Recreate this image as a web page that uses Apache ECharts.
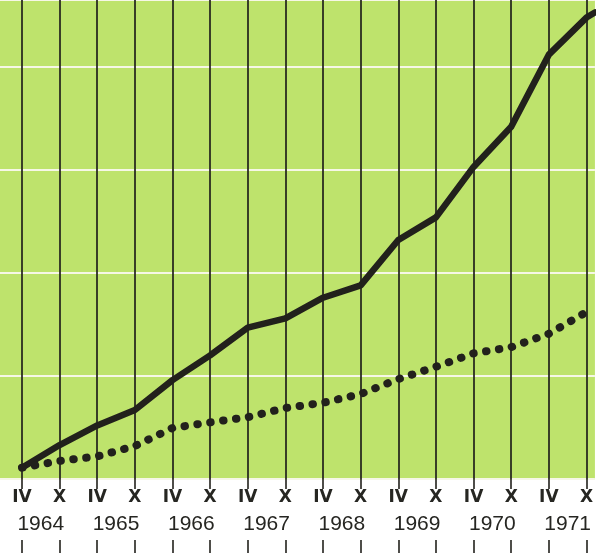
<!DOCTYPE html>
<html>
<head>
<meta charset="utf-8">
<script src="https://cdn.jsdelivr.net/npm/echarts@6/dist/echarts.min.js"></script>
<style>
html,body{margin:0;padding:0;background:#fff;}
#chart{width:596px;height:553px;}
</style>
</head>
<body>
<div id="chart"></div>
<script>
// ---- data ----
const quarterLabels = ['IV','X','IV','X','IV','X','IV','X','IV','X','IV','X','IV','X','IV','X'];
const years = ['1964','1965','1966','1967','1968','1969','1970','1971'];
const solidSeries = [11, 33, 52, 67, 96, 120, 147, 156, 176, 188, 232, 254, 303, 342, 412, 448];
const solidEdgeValue = 453;
const dottedSeries = [11, 17.5, 22, 32, 49.5, 55, 60, 69, 74, 82.5, 97, 109, 122, 128, 141, 162];
const gridValues = [0, 100, 200, 300, 400];

// ---- layout ----
const X_MIN = -22 / 37.7;
const X_MAX = 15 + 8.5 / 37.7;
const tickIdx = quarterLabels.map((_, i) => i);
const yearPos = years.map((_, k) => 2 * k + 0.5);

const solidData = solidSeries.map((v, i) => [i, v]);
solidData.push([X_MAX, solidEdgeValue]);
const dottedData = dottedSeries.map((v, i) => [i, v]);

const INK = '#22211c';
const chart = echarts.init(document.getElementById('chart'), null, {renderer: 'canvas'});
chart.setOption({
  backgroundColor: '#ffffff',
  animation: false,
  grid: {left: 0, right: 0, top: 0, bottom: 74, show: true, backgroundColor: '#bee36c', borderWidth: 0},
  xAxis: [{
    type: 'value', min: X_MIN, max: X_MAX, position: 'bottom',
    axisLine: {show: false},
    axisTick: {show: true, customValues: tickIdx, length: 10, lineStyle: {color: INK, width: 1.6}},
    axisLabel: {
      customValues: tickIdx, margin: 10,
      formatter: v => quarterLabels[Math.round(v)] || '',
      color: '#262622', fontFamily: 'DejaVu Sans', fontWeight: 'bold', fontSize: 17
    },
    splitLine: {show: false}
  }, {
    type: 'value', min: X_MIN, max: X_MAX, position: 'bottom', offset: 61,
    axisLine: {show: false},
    axisTick: {show: true, customValues: tickIdx, length: 14, lineStyle: {color: INK, width: 1.6}},
    axisLabel: {
      inside: true, customValues: yearPos, margin: 5,
      formatter: v => years[Math.round((v - 0.5) / 2)] || '',
      color: '#262622', fontFamily: 'Liberation Sans', fontSize: 21
    },
    splitLine: {show: false}
  }],
  yAxis: {
    type: 'value', min: 0, max: 479 / 1.03, interval: 100,
    axisLine: {show: false}, axisTick: {show: false}, axisLabel: {show: false},
    splitLine: {show: true, lineStyle: {color: '#f6f7e6', width: 2}}
  },
  series: [{
    type: 'line', data: [], silent: true, z: 1,
    markLine: {
      silent: true, symbol: 'none', label: {show: false},
      lineStyle: {color: INK, width: 1.7, type: 'solid'},
      data: tickIdx.map(i => ({xAxis: i}))
    }
  }, {
    name: 'solid', type: 'line', data: solidData, showSymbol: false, z: 3,
    lineStyle: {color: INK, width: 6.5, join: 'round', cap: 'round'}
  }, {
    name: 'dotted', type: 'line', data: dottedData, showSymbol: false, z: 3,
    lineStyle: {color: INK, width: 8, type: [0.5, 12.5], cap: 'round', join: 'round'}
  }]
});
</script>
</body>
</html>
